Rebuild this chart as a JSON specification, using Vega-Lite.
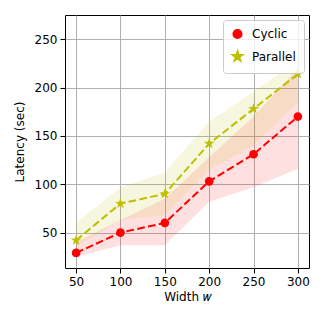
{
  "$schema": "https://vega.github.io/schema/vega-lite/v6.json",
  "width": 244,
  "height": 253,
  "autosize": {"type": "none"},
  "padding": {"left": 65, "top": 15, "right": 15, "bottom": 56},
  "config": {
    "font": "DejaVu Sans",
    "view": {"stroke": "#000000", "strokeWidth": 1},
    "axis": {
      "labelFont": "DejaVu Sans", "labelFontSize": 12, "labelColor": "#000000",
      "titleFont": "DejaVu Sans", "titleFontSize": 12, "titleFontWeight": "normal", "titleColor": "#000000",
      "tickColor": "#000000", "tickSize": 5, "domain": false,
      "gridColor": "#b0b0b0", "gridWidth": 1, "labelPadding": 3
    }
  },
  "data": {"values": [
    {"w": 50, "series": "Cyclic", "latency": 29, "lo": 25, "hi": 40},
    {"w": 100, "series": "Cyclic", "latency": 50, "lo": 37, "hi": 63},
    {"w": 150, "series": "Cyclic", "latency": 60, "lo": 37, "hi": 85},
    {"w": 200, "series": "Cyclic", "latency": 103, "lo": 82, "hi": 128},
    {"w": 250, "series": "Cyclic", "latency": 131, "lo": 97, "hi": 170},
    {"w": 300, "series": "Cyclic", "latency": 170, "lo": 116, "hi": 220},
    {"w": 50, "series": "Parallel", "latency": 42, "lo": 35, "hi": 60},
    {"w": 100, "series": "Parallel", "latency": 80, "lo": 63, "hi": 97},
    {"w": 150, "series": "Parallel", "latency": 90, "lo": 68, "hi": 112},
    {"w": 200, "series": "Parallel", "latency": 142, "lo": 115, "hi": 165},
    {"w": 250, "series": "Parallel", "latency": 178, "lo": 140, "hi": 196},
    {"w": 300, "series": "Parallel", "latency": 214, "lo": 185, "hi": 228}
  ]},
  "encoding": {
    "x": {"field": "w", "type": "quantitative",
      "scale": {"domain": [37.5, 312.5], "nice": false, "zero": false},
      "axis": {"values": [50, 100, 150, 200, 250, 300], "title": "Width 𝑤", "titlePadding": 4}},
    "color": {"field": "series", "type": "nominal",
      "scale": {"domain": ["Cyclic", "Parallel"], "range": ["#ff0000", "#bfbf00"]},
      "legend": {
        "title": null, "orient": "top-right", "offset": 5,
        "labelFontSize": 12, "labelFont": "DejaVu Sans", "labelColor": "#000000",
        "symbolOpacity": 1, "rowPadding": 5, "labelOffset": 8,
        "padding": 8, "fillColor": "rgba(255,255,255,0.8)", "strokeColor": "#cccccc", "cornerRadius": 3
      }}
  },
  "layer": [
    {
      "mark": {"type": "area", "opacity": 0.12},
      "encoding": {
        "y": {"field": "lo", "type": "quantitative",
          "scale": {"domain": [13.4, 275], "nice": false, "zero": false},
          "axis": {"values": [50, 100, 150, 200, 250], "title": "Latency (sec)", "titlePadding": 8}},
        "y2": {"field": "hi"}
      }
    },
    {
      "mark": {"type": "line", "strokeDash": [7.7, 3.3], "strokeWidth": 2},
      "encoding": {
        "y": {"field": "latency", "type": "quantitative"}
      }
    },
    {
      "mark": {"type": "point", "filled": true, "opacity": 1},
      "encoding": {
        "y": {"field": "latency", "type": "quantitative"},
        "shape": {"field": "series", "type": "nominal",
          "scale": {"domain": ["Cyclic", "Parallel"], "range": ["circle", "M0,-1L0.225,-0.309L0.951,-0.309L0.363,0.118L0.588,0.809L0,0.382L-0.588,0.809L-0.363,0.118L-0.951,-0.309L-0.225,-0.309Z"]}, "legend": null},
        "size": {"field": "series", "type": "nominal",
          "scale": {"domain": ["Cyclic", "Parallel"], "range": [75, 130]}, "legend": null}
      }
    }
  ]
}
